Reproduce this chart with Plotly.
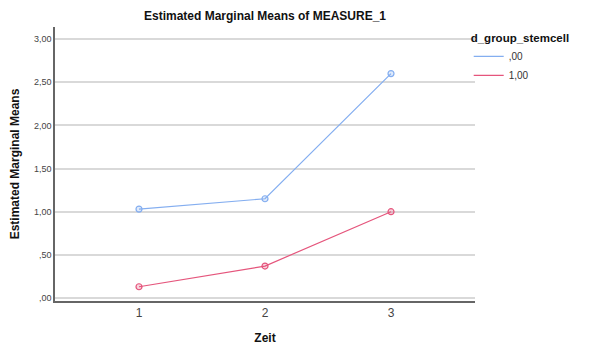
import plotly.graph_objects as go

zeit = [1, 2, 3]
grp_00 = [1.03, 1.15, 2.60]
grp_100 = [0.13, 0.37, 1.00]
y_ticks = [0, 0.5, 1.0, 1.5, 2.0, 2.5, 3.0]
y_labels = [",00", ",50", "1,00", "1,50", "2,00", "2,50", "3,00"]

blue = "#84aef0"
red = "#e5557c"

fig = go.Figure()
for name, vals, col, fill in [(",00", grp_00, blue, "rgba(132,174,240,0.25)"),
                              ("1,00", grp_100, red, "rgba(229,85,124,0.25)")]:
    fig.add_trace(go.Scatter(
        x=zeit, y=vals, name=name, mode="lines+markers", showlegend=False,
        line=dict(color=col, width=1.2),
        marker=dict(symbol="circle", size=6, color=fill,
                    line=dict(color=col, width=1.2))))
    # legend entry shows the line only, like the SPSS key
    fig.add_trace(go.Scatter(
        x=[None], y=[None], name=name, mode="lines",
        line=dict(color=col, width=1.2)))

fig.update_layout(
    width=590, height=345,
    margin=dict(l=55, r=115, t=27, b=44, autoexpand=False),
    paper_bgcolor="white", plot_bgcolor="white",
    font=dict(family="Liberation Sans, Arial", color="#333333"),
    title=dict(text="<b>Estimated Marginal Means of MEASURE_1</b>",
               x=265 / 590, xanchor="center", y=1 - 16 / 345, yanchor="middle",
               font=dict(size=12, color="#111111")),
    legend=dict(title=dict(text="<b>d_group_stemcell</b>", side="top",
                           font=dict(size=11.5, color="#111111")),
                x=0.985, y=1.0, xanchor="left", yanchor="top",
                font=dict(size=10, color="#333333"),
                itemwidth=30, tracegroupgap=0, bgcolor="rgba(0,0,0,0)"),
    showlegend=True,
)
fig.update_xaxes(
    range=[1 / 3, 3 + 2 / 3], tickvals=zeit, ticktext=[str(z) for z in zeit],
    showgrid=False, zeroline=False,
    showline=True, linecolor="#666666", linewidth=1.5,
    ticks="", tickfont=dict(size=12, color="#444444"),
    title=dict(text="<b>Zeit</b>", font=dict(size=12, color="#111111"), standoff=14),
)
fig.update_yaxes(
    range=[-0.035, 3.14], tickvals=y_ticks, ticktext=y_labels,
    showgrid=True, gridcolor="#d9d9d9", gridwidth=1.5, zeroline=False,
    showline=True, linecolor="#666666", linewidth=1.5,
    ticks="", tickfont=dict(size=9, color="#444444"),
    title=dict(text="<b>Estimated Marginal Means</b>",
               font=dict(size=12, color="#111111"), standoff=12),
)

# drop the browser's default 8px body margin so the figure fills the window
fig.write_html("out.html", config={"displayModeBar": False},
               post_script="document.body.style.margin='0';")
